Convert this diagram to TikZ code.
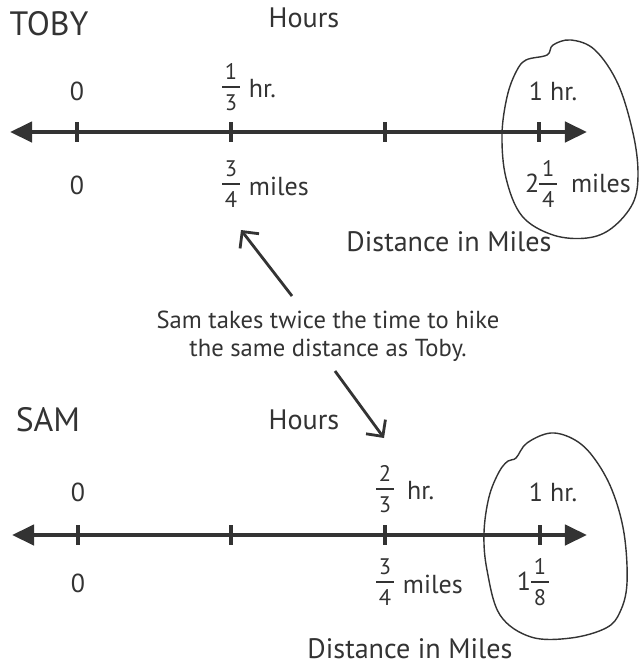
\documentclass[tikz,border=0pt]{standalone}
\usepackage{fontspec}
\setmainfont{PT Sans}
\usepackage{tikz}
\usetikzlibrary{positioning, arrows.meta}
\definecolor{Ink}{HTML}{333333}

% stacked fraction with sans digits
\newcommand{\fracsf}[2]{{\setlength{\arrayrulewidth}{1.2pt}%
  \begin{tabular}{@{\hspace{2pt}}c@{\hspace{2pt}}}\fontsize{16}{16}\selectfont #1\\[-1pt]\hline
  \noalign{\vskip 2pt}\fontsize{16}{16}\selectfont #2\end{tabular}}}

\begin{document}
\begin{tikzpicture}[
    x=0.025cm, y=-0.025cm,
    numline/.style={line width=3pt, color=Ink, {Triangle[length=5.5mm, width=5mm]}-{Triangle[length=5.5mm, width=5mm]}},
    tickmark/.style={line width=2.6pt, color=Ink},
    pointer/.style={line width=2pt, color=Ink, -{Straight Barb[length=3mm, width=6mm]}},
    blob/.style={draw=Ink, line width=1pt},
    lbl/.style={text=Ink, font=\fontsize{18.5}{20}\selectfont, inner sep=1pt},
    title/.style={text=Ink, font=\fontsize{24}{28}\selectfont},
    axisname/.style={text=Ink, font=\fontsize{20}{22}\selectfont, inner sep=1pt},
    note/.style={text=Ink, font=\fontsize{17.5}{20}\selectfont, align=center}
]
\useasboundingbox (0,0) rectangle (640,667);

% Toby line
\node[title] (toby) at (49,24) {TOBY};
\node[axisname] (thours) at (304,18) {Hours};
\coordinate (tL) at (10,132);
\coordinate (tR) at (587,132);
\draw[numline] (tL) -- (tR);
\foreach \n/\x in {t0/77, t1/231, t2/385, t3/539} {
  \coordinate (\n) at (\x,132);
  \draw[tickmark] (\n) ++(0,-10) -- ++(0,20);
}
\node[lbl] (t0h) at (77,91) {0};
\node[lbl] (t1h) at (231,89) {\fracsf{1}{3}};
\node[lbl, right=4pt of t1h] (t1hr) {hr.};
\node[lbl] (t3h) at (553,91) {1 hr.};
\node[lbl] (t0m) at (77,185) {0};
\node[lbl] (t1m) at (231,186) {\fracsf{3}{4}};
\node[lbl, right=4pt of t1m] (t1mi) {miles};
\node[lbl] (t3m) at (578,186) {2\fracsf{1}{4}\ \ miles};
\node[axisname] (tdist) at (449,242) {Distance in Miles};
\draw[blob] plot[smooth cycle, tension=0.6] coordinates {
  (547,55) (553,45) (571,40) (595,50) (618,84) (633,133) (638,173) (633,203)
  (612,228) (587,238) (553,235) (522,216) (506,178) (502,135) (507,97)
  (516,72) (526,60)};

% note between the lines
\node[note] (note) at (328,336) {Sam takes twice the time to hike\\the same distance as Toby.};
\coordinate (upTail) at (292,296);
\coordinate (upHead) at (241,230);
\coordinate (dnTail) at (335,371);
\coordinate (dnHead) at (384,438);
\draw[pointer] (upTail) -- (upHead);
\draw[pointer] (dnTail) -- (dnHead);

% Sam line
\node[title] (sam) at (48,420) {SAM};
\node[axisname] (shours) at (304,420) {Hours};
\coordinate (sL) at (12,535);
\coordinate (sR) at (587,535);
\draw[numline] (sL) -- (sR);
\foreach \n/\x in {s0/78, s1/231, s2/385, s3/540} {
  \coordinate (\n) at (\x,535);
  \draw[tickmark] (\n) ++(0,-10) -- ++(0,20);
}
\node[lbl] (s0h) at (78,492) {0};
\node[lbl] (s2h) at (385,491) {\fracsf{2}{3}};
\node[lbl, right=7pt of s2h] (s2hr) {hr.};
\node[lbl] (s3h) at (553,492) {1 hr.};
\node[lbl] (s0m) at (78,583) {0};
\node[lbl] (s2m) at (385,584) {\fracsf{3}{4}};
\node[lbl, right=4pt of s2m] (s2mi) {miles};
\node[lbl] (s3m) at (533,584) {1\fracsf{1}{8}};
\node[axisname] (sdist) at (410,649) {Distance in Miles};
\draw[blob] plot[smooth cycle, tension=0.6] coordinates {
  (516,458) (527,443) (551,433) (575,440) (594,458) (612,490) (624,533)
  (627,583) (620,612) (606,628) (571,638) (531,637) (500,615) (487,570)
  (484,533) (489,497) (499,472) (508,461)};

\end{tikzpicture}
\end{document}
